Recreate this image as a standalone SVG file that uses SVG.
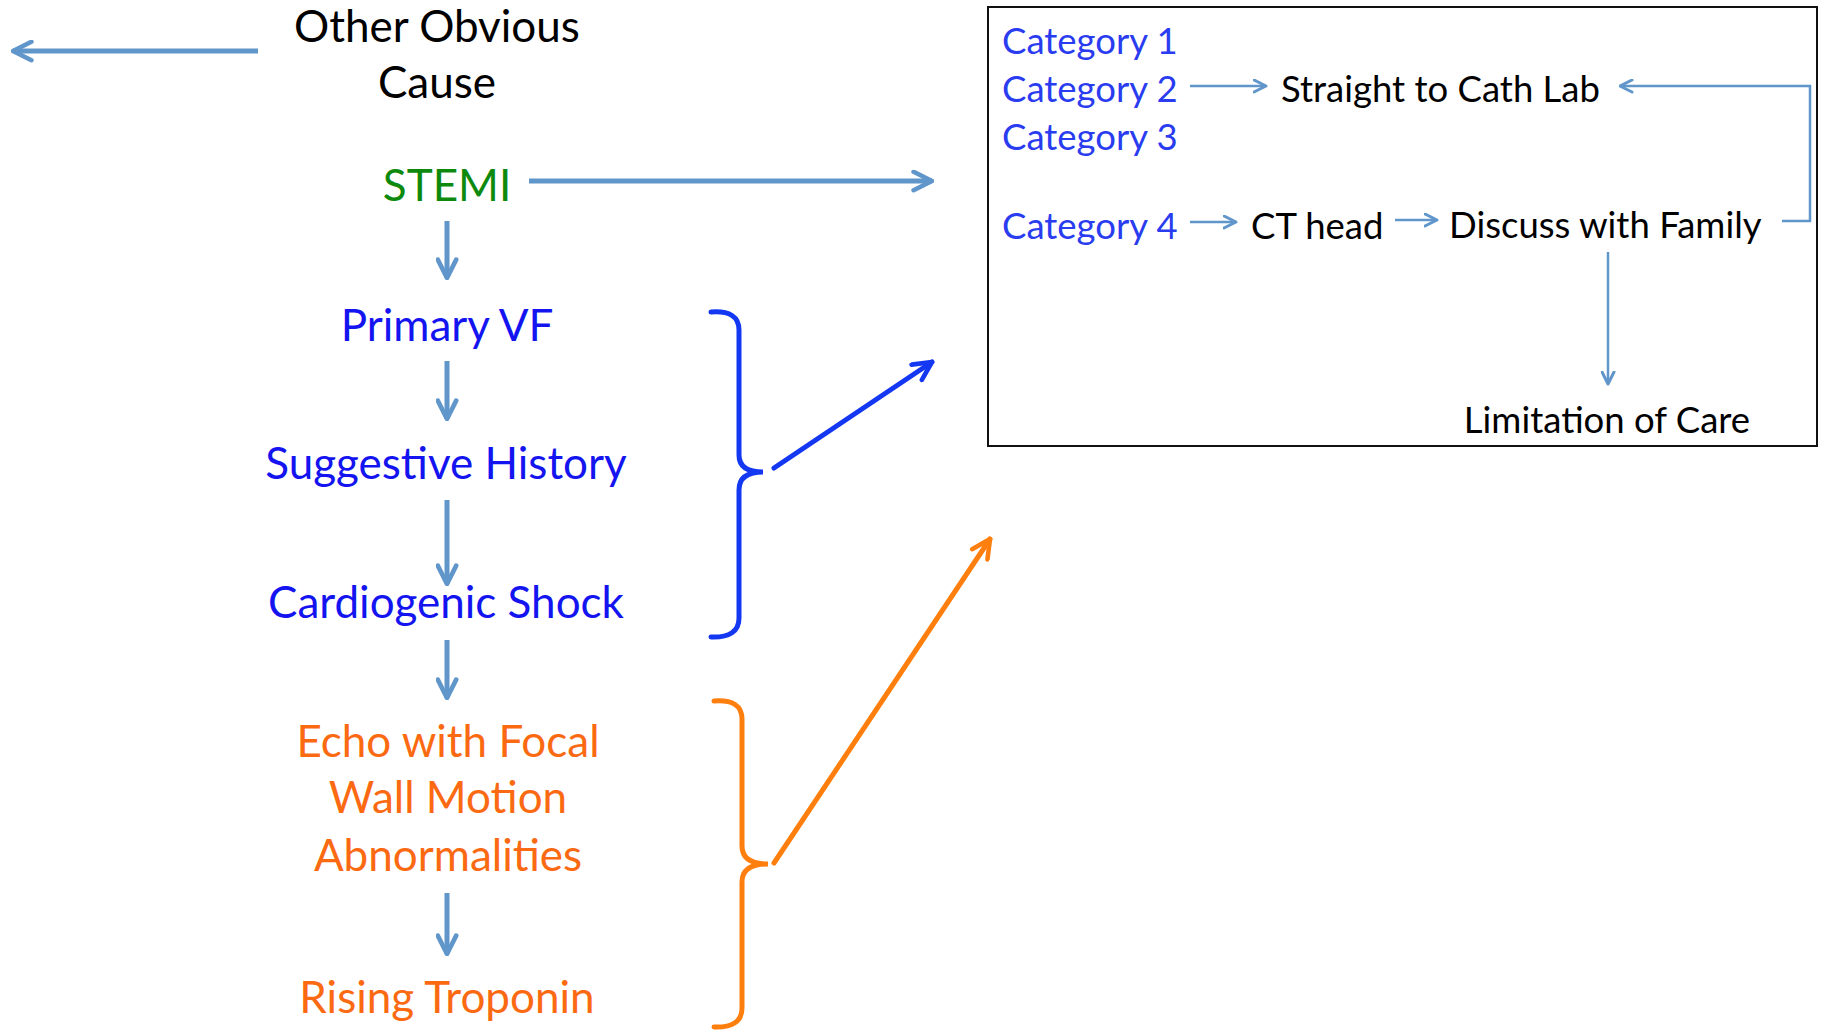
<svg xmlns="http://www.w3.org/2000/svg" width="1824" height="1030" viewBox="0 0 1824 1030">
  <style>
    text { font-family: Lato, "Open Sans", "Liberation Sans", sans-serif; }
    .big { font-size: 44px; text-anchor: middle; }
    .small { font-size: 36.5px; }
    .black { fill: #000000; }
    .green { fill: #0d8a0d; }
    .blue { fill: #1414f0; }
    .cat { fill: #2a3cf0; }
    .orange { fill: #fb6a12; }
    .conn { stroke: #6196cb; stroke-width: 5; fill: none; }
    .thin { stroke: #6196cb; stroke-width: 2.5; fill: none; }
    .brace-blue { stroke: #1438f2; stroke-width: 5; fill: none; stroke-linecap: round; }
    .brace-orange { stroke: #ff7f0e; stroke-width: 5; fill: none; stroke-linecap: round; }
  </style>
  <defs>
    <marker id="head" viewBox="0 0 10 10" refX="9" refY="5" markerWidth="4.6" markerHeight="4.6" orient="auto" markerUnits="strokeWidth">
      <path d="M1,1 L9,5 L1,9" fill="none" stroke="#6196cb" stroke-width="2" stroke-linejoin="round" stroke-linecap="round"/>
    </marker>
    <marker id="head-thin" viewBox="0 0 10 10" refX="9" refY="5" markerWidth="6" markerHeight="6" orient="auto" markerUnits="strokeWidth">
      <path d="M1,1 L9,5 L1,9" fill="none" stroke="#6196cb" stroke-width="2" stroke-linejoin="round" stroke-linecap="round"/>
    </marker>
    <marker id="head-blue" viewBox="0 0 10 10" refX="9" refY="5" markerWidth="4.6" markerHeight="4.6" orient="auto" markerUnits="strokeWidth">
      <path d="M1,1 L9,5 L1,9" fill="none" stroke="#1438f2" stroke-width="2" stroke-linejoin="round" stroke-linecap="round"/>
    </marker>
    <marker id="head-orange" viewBox="0 0 10 10" refX="9" refY="5" markerWidth="4.6" markerHeight="4.6" orient="auto" markerUnits="strokeWidth">
      <path d="M1,1 L9,5 L1,9" fill="none" stroke="#ff7f0e" stroke-width="2" stroke-linejoin="round" stroke-linecap="round"/>
    </marker>
  </defs>

  <rect width="1824" height="1030" fill="#ffffff"/>

  <!-- category panel -->
  <g id="category-panel">
    <rect x="988" y="7" width="829" height="439" fill="none" stroke="#111111" stroke-width="2"/>
  </g>

  <!-- left-hand pathway -->
  <g id="other-obvious-cause">
    <text class="big black" x="437" y="42">Other Obvious</text>
    <text class="big black" x="437" y="98">Cause</text>
  </g>
  <g id="stemi"><text class="big green" x="447" y="201">STEMI</text></g>
  <g id="primary-vf"><text class="big blue" x="447" y="341">Primary VF</text></g>
  <g id="suggestive-history"><text class="big blue" x="446" y="479">Suggestive History</text></g>
  <g id="cardiogenic-shock"><text class="big blue" x="446" y="618">Cardiogenic Shock</text></g>
  <g id="echo-wall-motion">
    <text class="big orange" x="448" y="757">Echo with Focal</text>
    <text class="big orange" x="448" y="813">Wall Motion</text>
    <text class="big orange" x="448" y="871">Abnormalities</text>
  </g>
  <g id="rising-troponin"><text class="big orange" x="447" y="1013">Rising Troponin</text></g>

  <!-- panel contents -->
  <g id="category-1"><text class="small cat" x="1002" y="54">Category 1</text></g>
  <g id="category-2"><text class="small cat" x="1002" y="102">Category 2</text></g>
  <g id="category-3"><text class="small cat" x="1002" y="150">Category 3</text></g>
  <g id="category-4"><text class="small cat" x="1002" y="239">Category 4</text></g>
  <g id="cath-lab"><text class="small black" x="1281" y="102">Straight to Cath Lab</text></g>
  <g id="ct-head"><text class="small black" x="1251" y="239">CT head</text></g>
  <g id="discuss-family"><text class="small black" x="1449" y="238">Discuss with Family</text></g>
  <g id="limitation-of-care"><text class="small black" x="1607" y="433" text-anchor="middle">Limitation of Care</text></g>

  <!-- braces grouping the criteria -->
  <g id="brace-blue">
    <path class="brace-blue" d="M711,312 Q739,310 739,330 V455 Q739,472 763,472 Q739,472 739,490 V618 Q739,638 711,637"/>
  </g>
  <g id="brace-orange">
    <path class="brace-orange" d="M714,701 Q742,699 742,719 V846 Q742,864 768,864 Q742,864 742,882 V1008 Q742,1028 714,1027"/>
  </g>

  <!-- connectors -->
  <g id="connectors">
    <line class="conn" x1="258" y1="51" x2="13" y2="51" marker-end="url(#head)"/>
    <line class="conn" x1="529" y1="181" x2="932" y2="181" marker-end="url(#head)"/>
    <line class="conn" x1="447" y1="221" x2="447" y2="278" marker-end="url(#head)"/>
    <line class="conn" x1="447" y1="361" x2="447" y2="419" marker-end="url(#head)"/>
    <line class="conn" x1="447" y1="500" x2="447" y2="584" marker-end="url(#head)"/>
    <line class="conn" x1="447" y1="640" x2="447" y2="698" marker-end="url(#head)"/>
    <line class="conn" x1="447" y1="893" x2="447" y2="954" marker-end="url(#head)"/>
    <line class="brace-blue" x1="774" y1="468" x2="932" y2="362" marker-end="url(#head-blue)"/>
    <line class="brace-orange" x1="774" y1="863" x2="990" y2="539" marker-end="url(#head-orange)"/>
    <line class="thin" x1="1190" y1="86" x2="1266" y2="86" marker-end="url(#head-thin)"/>
    <line class="thin" x1="1190" y1="222" x2="1236" y2="222" marker-end="url(#head-thin)"/>
    <line class="thin" x1="1395" y1="220" x2="1437" y2="220" marker-end="url(#head-thin)"/>
    <polyline class="thin" points="1782,221 1810,221 1810,86 1620,86" marker-end="url(#head-thin)"/>
    <line class="thin" x1="1608" y1="252" x2="1608" y2="384" marker-end="url(#head-thin)"/>
  </g>
</svg>
